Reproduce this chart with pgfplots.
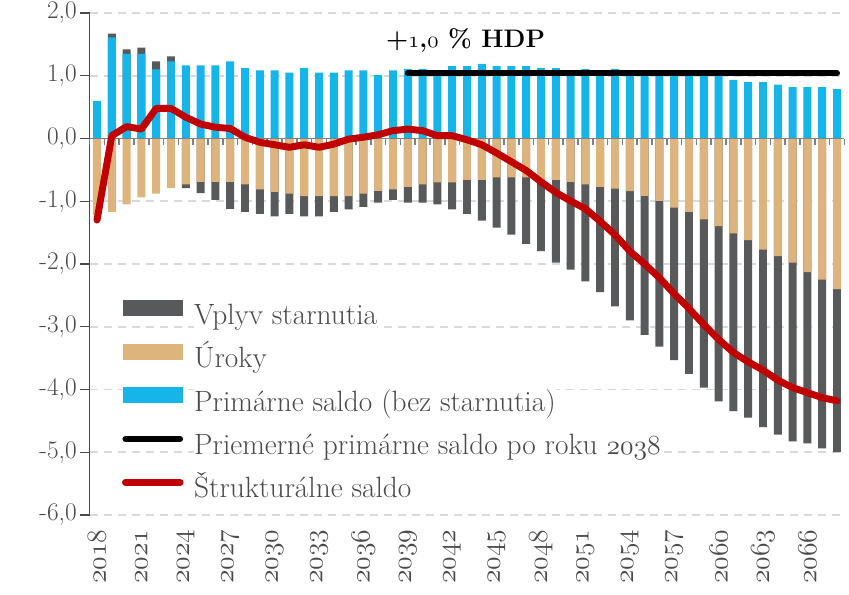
\documentclass[border=0pt]{standalone}
\usepackage{pgfplots}
\usepackage{pgfplotstable}
\pgfplotsset{compat=1.18}
\definecolor{cyanb}{HTML}{15B4E9}
\definecolor{tanb}{HTML}{DDB47D}
\definecolor{greyb}{HTML}{58595B}
\definecolor{redl}{HTML}{C00000}
\definecolor{txt}{HTML}{4A4A4A}
\definecolor{gridc}{HTML}{D9D9D9}
\definecolor{zeroc}{HTML}{808080}
\pgfplotsset{
  barlegend/.style={legend image code/.code={\fill[##1] (0pt,0pt) rectangle (45pt,12pt);}},
  linelegend/.style={legend image code/.code={\draw[##1] (2pt,6pt) -- (43pt,6pt);}},
}
\newcommand{\osn}[1]{\legacyoldstylenums{#1}}
% year, primary saldo, grey top (positive), uroky bottom, grey bottom (negative total), structural saldo
\pgfplotstableread{
year prim gpos tan gneg red
2018 0.60 nan -1.22 nan -1.30
2019 1.61 1.67 -1.17 nan 0.045
2020 1.35 1.42 -1.05 nan 0.19
2021 1.35 1.45 -0.94 nan 0.15
2022 1.10 1.23 -0.88 nan 0.48
2023 1.23 1.31 -0.79 nan 0.48
2024 1.165 nan -0.73 -0.79 0.34
2025 1.165 nan -0.69 -0.87 0.23
2026 1.165 nan -0.69 -0.98 0.18
2027 1.23 nan -0.69 -1.12 0.16
2028 1.12 nan -0.73 -1.17 0.02
2029 1.085 nan -0.81 -1.20 -0.06
2030 1.085 nan -0.85 -1.24 -0.10
2031 1.05 nan -0.88 -1.20 -0.14
2032 1.12 nan -0.92 -1.24 -0.10
2033 1.05 nan -0.92 -1.24 -0.14
2034 1.05 nan -0.92 -1.17 -0.09
2035 1.085 nan -0.92 -1.13 -0.01
2036 1.085 nan -0.88 -1.09 0.02
2037 1.01 nan -0.835 -1.02 0.06
2038 1.085 nan -0.81 -0.98 0.125
2039 1.11 nan -0.77 -1.02 0.15
2040 1.11 nan -0.73 -1.02 0.125
2041 1.05 nan -0.70 -1.05 0.045
2042 1.155 nan -0.70 -1.13 0.045
2043 1.155 nan -0.66 -1.20 -0.02
2044 1.19 nan -0.66 -1.31 -0.10
2045 1.155 nan -0.62 -1.42 -0.23
2046 1.155 nan -0.62 -1.53 -0.37
2047 1.155 nan -0.62 -1.68 -0.51
2048 1.12 nan -0.66 -1.795 -0.69
2049 1.12 nan -0.66 -1.98 -0.86
2050 1.05 nan -0.69 -2.09 -0.995
2051 1.11 nan -0.73 -2.275 -1.12
2052 1.05 nan -0.77 -2.45 -1.32
2053 1.11 nan -0.80 -2.675 -1.535
2054 1.05 nan -0.84 -2.90 -1.795
2055 1.05 nan -0.915 -3.13 -2.00
2056 1.05 nan -0.995 -3.315 -2.22
2057 1.05 nan -1.10 -3.53 -2.475
2058 1.05 nan -1.17 -3.75 -2.71
2059 1.05 nan -1.29 -3.97 -2.965
2060 1.00 nan -1.395 -4.19 -3.20
2061 0.935 nan -1.51 -4.345 -3.41
2062 0.90 nan -1.62 -4.45 -3.56
2063 0.90 nan -1.77 -4.60 -3.69
2064 0.86 nan -1.875 -4.72 -3.85
2065 0.82 nan -1.98 -4.825 -3.97
2066 0.82 nan -2.13 -4.86 -4.05
2067 0.82 nan -2.25 -4.94 -4.13
2068 0.785 nan -2.40 -5.00 -4.18
}\data
\begin{document}
\begin{tikzpicture}
\begin{axis}[name=main, scale only axis, width=566.1pt, height=376.5pt,
  xmin=2017.5, xmax=2068.5, ymin=-6, ymax=2,
  axis y line*=left, axis x line*=bottom,
  x axis line style={draw=none},
  y axis line style={txt, line width=1.1pt},
  ytick={-6,-5,...,2},
  yticklabels={{-6,0},{-5,0},{-4,0},{-3,0},{-2,0},{-1,0},{0,0},{1,0},{2,0}},
  ytick style={txt, line width=1.1pt},
  tick align=outside, major tick length=7.5pt,
  ymajorgrids, major grid style={gridc, line width=1.4pt, dash pattern=on 6pt off 4.5pt},
  xtick={2018,2021,...,2066},
  xticklabels={\osn{2018},\osn{2021},\osn{2024},\osn{2027},\osn{2030},\osn{2033},\osn{2036},\osn{2039},\osn{2042},\osn{2045},\osn{2048},\osn{2051},\osn{2054},\osn{2057},\osn{2060},\osn{2063},\osn{2066}},
  xtick style={draw=none},
  xticklabel style={rotate=90, anchor=east, font=\fontsize{21}{23}\selectfont, text=txt},
  yticklabel style={font=\fontsize{19}{21}\selectfont, text=txt, inner sep=2pt},
  clip=false,
]
\addplot[ybar, bar width=0.54, bar shift=0pt, fill=greyb, draw=none] table[x=year,y=gneg]{\data};
\addplot[ybar, bar width=0.54, bar shift=0pt, fill=tanb, draw=none] table[x=year,y=tan]{\data};
\addplot[ybar, bar width=0.54, bar shift=0pt, fill=greyb, draw=none] table[x=year,y=gpos]{\data};
\addplot[ybar, bar width=0.54, bar shift=0pt, fill=cyanb, draw=none] table[x=year,y=prim]{\data};
\end{axis}
\begin{axis}[at={(main.north west)}, anchor=north west, scale only axis,
  width=566.1pt, height=94.125pt,
  xmin=2017.5, xmax=2068.5, ymin=0, ymax=2, clip=false,
  axis y line=none, axis x line*=bottom,
  x axis line style={zeroc, line width=1.3pt},
  xtick={2017.5,2018.5,...,2068.5}, xticklabels={},
  xtick style={zeroc, line width=1.3pt},
  tick align=outside, major tick length=5pt,
  legend style={at={(0.0429,-1.245)}, anchor=north west, draw=none, fill=none,
    inner sep=0pt, outer sep=0pt, row sep=0pt, column sep=8pt,
    font=\fontsize{22}{26}\selectfont, text=txt,
    nodes={fill=white, inner sep=0pt, text height=22pt, text depth=10.6pt}},
  legend cell align=left,
]
\addlegendimage{barlegend, fill=greyb, draw=none}
\addlegendentry{Vplyv starnutia}
\addlegendimage{barlegend, fill=tanb, draw=none}
\addlegendentry{Úroky}
\addlegendimage{barlegend, fill=cyanb, draw=none}
\addlegendentry{Primárne saldo (bez starnutia)}
\addplot[linelegend, black, line width=4.5pt, line cap=round] coordinates {(2039,1.04) (2068,1.04)};
\addlegendentry{Priemerné primárne saldo po roku \osn{2038}}
\addplot[linelegend, redl, line width=5.2pt, line cap=round, line join=round] table[x=year,y=red]{\data};
\addlegendentry{Štrukturálne saldo}
\node[font=\fontsize{19}{21}\selectfont\bfseries, text=black] at (axis cs:2042.9,1.565) {+\osn{1},\osn{0}~\%~HDP};
\end{axis}
\pgfresetboundingbox
\path[use as bounding box] ([shift={(-67.2pt,-60pt)}]main.south west) rectangle ([shift={(569.55pt,386.25pt)}]main.south west);
\end{tikzpicture}
\end{document}
